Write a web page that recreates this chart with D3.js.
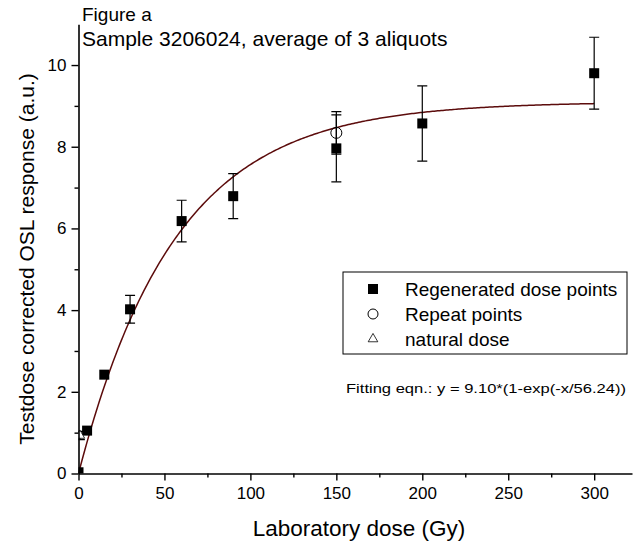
<!DOCTYPE html>
<html>
<head>
<meta charset="utf-8">
<script src="https://cdn.jsdelivr.net/npm/d3@7"></script>
<style>
  body { margin: 0; background: #fff; }
  svg { display: block; }
  text { font-family: "Liberation Sans", Arial, Helvetica, sans-serif; fill: #000; }
</style>
</head>
<body>
<svg id="chart" width="637" height="547"></svg>
<script>
// Regenerated dose points (Gy) with corrected OSL response and 1-sigma errors
const regenDose = [0, 5, 15, 30, 60, 90, 150, 200, 300];
const regenResp = [0.03, 1.05, 2.42, 4.02, 6.18, 6.79, 7.96, 8.57, 9.80];
const regenErr  = [0, 0, 0, 0.34, 0.51, 0.55, 0.82, 0.92, 0.88];

// Recycling (repeat) point
const repeatDose = [150];
const repeatResp = [8.34];
const repeatErr  = [0.52];

// Natural signal
const naturalDose = [0.8];
const naturalResp = [0.93];
const naturalErr  = [0.10];

// Saturating exponential fit: y = A * (1 - exp(-x / D0))
const fitA = 9.10;
const fitD0 = 56.24;
const fitMaxDose = 300;

const xTicks = [0, 50, 100, 150, 200, 250, 300];
const xMinorTicks = [25, 75, 125, 175, 225, 275];
const yTicks = [0, 2, 4, 6, 8, 10];
const yMinorTicks = [1, 3, 5, 7, 9];

const legendLabels = ["Regenerated dose points", "Repeat points", "natural dose"];
const fitLabel = "Fitting eqn.: y = 9.10*(1-exp(-x/56.24))";

const svg = d3.select("#chart");

const x = d3.scaleLinear().domain([0, 322]).range([78.5, 632]);
const y = d3.scaleLinear().domain([0, 11]).range([473.5, 24.2]);

// clip marks to the plotting frame
svg.append("defs").append("clipPath").attr("id", "plotClip")
  .append("rect")
  .attr("x", x(0)).attr("y", y(11))
  .attr("width", x(322) - x(0)).attr("height", y(0) - y(11));

const plot = svg.append("g").attr("clip-path", "url(#plotClip)");

// fitted curve
const curvePts = d3.range(0, fitMaxDose + 0.5, 1).map(d => [d, fitA * (1 - Math.exp(-d / fitD0))]);
plot.append("path")
  .datum(curvePts)
  .attr("fill", "none")
  .attr("stroke", "#5c0c0c")
  .attr("stroke-width", 1.5)
  .attr("d", d3.line().x(d => x(d[0])).y(d => y(d[1])));

// error bars
function errorBars(doses, resp, errs) {
  doses.forEach((d, i) => {
    const e = errs[i];
    if (!e) return;
    const cx = x(d), yt = y(resp[i] + e), yb = y(resp[i] - e);
    const g = plot.append("g").attr("stroke", "#000").attr("stroke-width", 1.2);
    g.append("line").attr("x1", cx).attr("x2", cx).attr("y1", yt).attr("y2", yb);
    g.append("line").attr("x1", cx - 5).attr("x2", cx + 5).attr("y1", yt).attr("y2", yt);
    g.append("line").attr("x1", cx - 5).attr("x2", cx + 5).attr("y1", yb).attr("y2", yb);
  });
}
errorBars(regenDose, regenResp, regenErr);
errorBars(repeatDose, repeatResp, repeatErr);
errorBars(naturalDose, naturalResp, naturalErr);

const sq = 10;
plot.selectAll("rect.regen")
  .data(regenDose.map((d, i) => [d, regenResp[i]]))
  .join("rect").attr("class", "regen")
  .attr("x", d => x(d[0]) - sq / 2).attr("y", d => y(d[1]) - sq / 2)
  .attr("width", sq).attr("height", sq)
  .attr("fill", "#000");

plot.selectAll("circle.repeat")
  .data(repeatDose.map((d, i) => [d, repeatResp[i]]))
  .join("circle").attr("class", "repeat")
  .attr("cx", d => x(d[0])).attr("cy", d => y(d[1])).attr("r", 5.5)
  .attr("fill", "none").attr("stroke", "#000").attr("stroke-width", 1);

const tri = d3.symbol().type(d3.symbolTriangle).size(40);
plot.selectAll("path.natural")
  .data(naturalDose.map((d, i) => [d, naturalResp[i]]))
  .join("path").attr("class", "natural")
  .attr("transform", d => `translate(${x(d[0])},${y(d[1])})`)
  .attr("d", tri)
  .attr("fill", "#fff").attr("stroke", "#000").attr("stroke-width", 0.8);

// axes
svg.append("g").attr("transform", `translate(0,${y(0)})`)
  .call(d3.axisBottom(x).tickValues(xTicks).tickSize(7).tickPadding(6).tickSizeOuter(0));
svg.append("g").attr("transform", `translate(0,${y(0)})`)
  .call(d3.axisBottom(x).tickValues(xMinorTicks).tickSize(4).tickFormat("").tickSizeOuter(0))
  .select(".domain").remove();
svg.append("g").attr("transform", `translate(${x(0)},0)`)
  .call(d3.axisLeft(y).tickValues(yTicks).tickSize(7).tickPadding(5).tickSizeOuter(0));
svg.append("g").attr("transform", `translate(${x(0)},0)`)
  .call(d3.axisLeft(y).tickValues(yMinorTicks).tickSize(4).tickFormat("").tickSizeOuter(0))
  .select(".domain").remove();

svg.selectAll(".domain").attr("stroke", "#000").attr("stroke-width", 1.6);
svg.selectAll(".tick line").attr("stroke", "#000").attr("stroke-width", 1.4);
svg.selectAll(".tick text").attr("font-size", 17).attr("font-family", "Liberation Sans, Arial, sans-serif");

// titles
svg.append("text").attr("x", 359).attr("y", 536).attr("text-anchor", "middle")
  .attr("font-size", 22.5).text("Laboratory dose (Gy)");
svg.append("text").attr("transform", `translate(34,${259}) rotate(-90)`).attr("text-anchor", "middle")
  .attr("font-size", 21).text("Testdose corrected OSL response (a.u.)");

svg.append("text").attr("x", 82).attr("y", 21).attr("font-size", 19).text("Figure a");
svg.append("text").attr("x", 82).attr("y", 46).attr("font-size", 21).text("Sample 3206024, average of 3 aliquots");

// legend
const lg = svg.append("g");
lg.append("rect").attr("x", 343).attr("y", 272).attr("width", 284).attr("height", 82)
  .attr("fill", "#fff").attr("stroke", "#000").attr("stroke-width", 1);
const rowY = [289, 314, 339];
lg.append("rect").attr("x", 373 - 5).attr("y", rowY[0] - 5).attr("width", 10).attr("height", 10).attr("fill", "#000");
lg.append("circle").attr("cx", 373).attr("cy", rowY[1]).attr("r", 5).attr("fill", "none").attr("stroke", "#000");
lg.append("path").attr("transform", `translate(373,${rowY[2]})`).attr("d", tri)
  .attr("fill", "#fff").attr("stroke", "#000").attr("stroke-width", 0.8);
legendLabels.forEach((t, i) => {
  lg.append("text").attr("x", 405).attr("y", rowY[i]).attr("dy", "0.35em")
    .attr("font-size", 19).text(t);
});

svg.append("text").attr("x", 346).attr("y", 393).attr("font-size", 13.5)
  .attr("textLength", 280).attr("lengthAdjust", "spacingAndGlyphs").text(fitLabel);
</script>
</body>
</html>
